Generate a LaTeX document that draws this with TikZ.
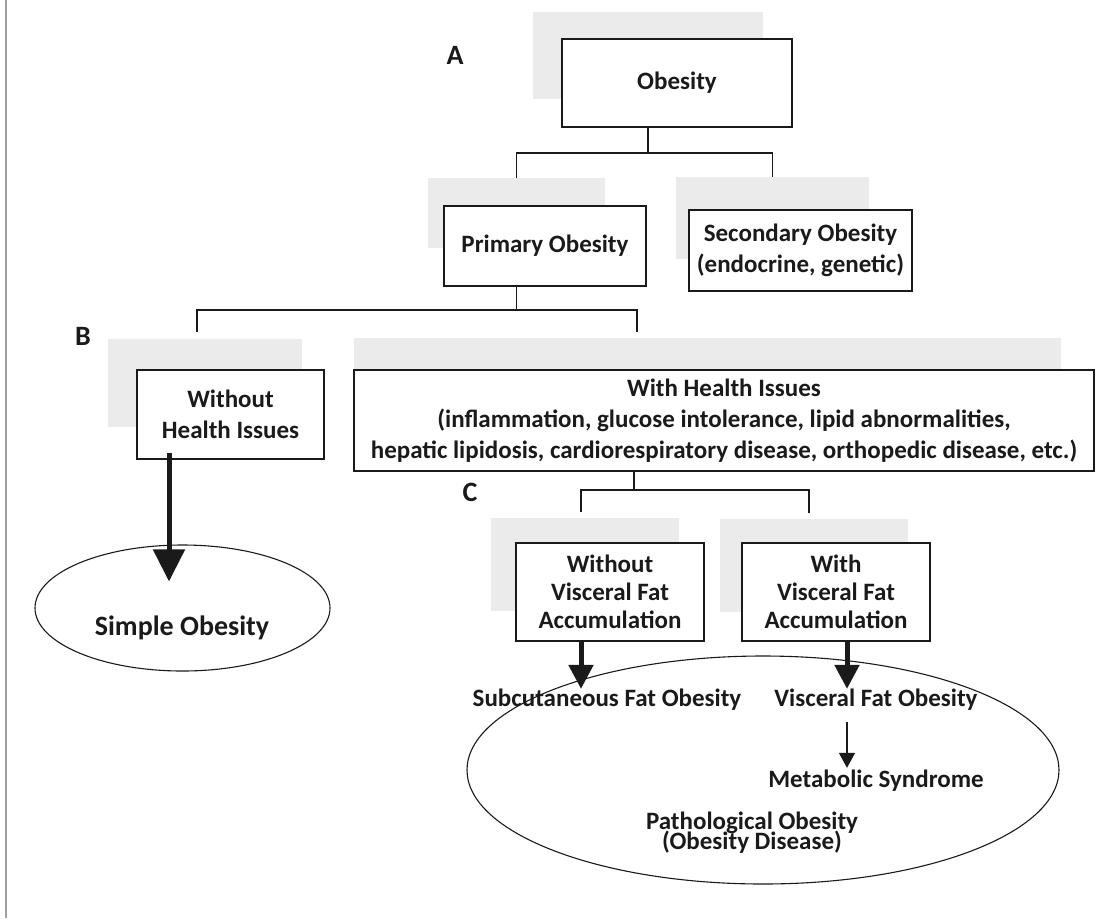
\documentclass[tikz,border=0pt]{standalone}
\usepackage{fontspec}
\setmainfont{Carlito}
\usetikzlibrary{arrows.meta,calc,positioning,shapes.geometric}
\definecolor{inkgray}{HTML}{1A1A1A}
\definecolor{shadegray}{HTML}{EBEBEB}
\definecolor{framegray}{HTML}{A0A0A0}
\newcommand{\boxfont}{\bfseries\fontsize{12.5}{15.5}\selectfont}
\tikzset{
  shadebox/.style={rectangle, fill=shadegray, draw=none, inner sep=0pt},
  box/.style={
    rectangle, draw=inkgray, fill=white, line width=0.9pt,
    align=center, inner sep=0pt, text=inkgray, font=\boxfont
  },
  plain/.style={font=\boxfont, text=inkgray, align=center, inner sep=0pt},
  tag/.style={font=\bfseries\fontsize{14}{16}\selectfont, text=inkgray},
  oval/.style={ellipse, draw=inkgray, line width=0.55pt, inner sep=0pt},
  link/.style={draw=inkgray, line width=0.6pt},
  fatarrow/.style={-{Triangle[width=12pt,length=12pt]}, line width=2.5pt, draw=inkgray},
  bigarrow/.style={-{Triangle[width=15.5pt,length=16pt]}, line width=2.5pt, draw=inkgray},
  thinarrow/.style={-{Triangle[width=8pt,length=7.5pt]}, line width=0.8pt, draw=inkgray}
}

\begin{document}
\begin{tikzpicture}[x=0.5pt,y=-0.5pt]
  \useasboundingbox (0,0) rectangle (1116,918);
  \draw[framegray, line width=0.75pt] (6,0) -- (6,918);

  % shadows behind the boxes
  \node[shadebox, minimum width=115pt, minimum height=43.5pt] (obsh) at (648,55.5) {};
  \node[shadebox, minimum width=88.5pt, minimum height=35pt] (primsh) at (516.5,213) {};
  \node[shadebox, minimum width=96.5pt, minimum height=41pt] (secsh) at (772.5,218) {};
  \node[shadebox, minimum width=97pt, minimum height=44pt] (nohsh) at (205,383) {};
  \node[shadebox, minimum width=353.5pt, minimum height=51pt] (withsh) at (707.5,389) {};
  \node[shadebox, minimum width=94pt, minimum height=46.5pt] (novsh) at (585,564.5) {};
  \node[shadebox, minimum width=94pt, minimum height=46.5pt] (wvsh) at (814,565.5) {};

  % boxes
  \node[box, minimum width=115pt, minimum height=44pt] (obesity) at (677,83) {Obesity};
  \node[box, minimum width=101pt, minimum height=40pt] (primary) at (545,246) {Primary Obesity};
  \node[box, minimum width=111.5pt, minimum height=40.5pt] (secondary) at (800.5,250.5)
    {Secondary Obesity\\(endocrine, genetic)};
  \node[box, minimum width=93.5pt, minimum height=44.5pt] (nohealth) at (230.5,414.5)
    {Without\\Health Issues};
  \node[box, minimum width=370pt, minimum height=50.5pt] (withhealth) at (724,420.5)
    {With Health Issues\\(inflammation, glucose intolerance, lipid abnormalities,\\
     hepatic lipidosis, cardiorespiratory disease, orthopedic disease, etc.)};
  \node[box, minimum width=94pt, minimum height=49pt,
    font=\bfseries\fontsize{12.5}{14}\selectfont] (novisc) at (610,592)
    {Without\\Visceral Fat\\Accumulation};
  \node[box, minimum width=94pt, minimum height=49pt,
    font=\bfseries\fontsize{12.5}{14}\selectfont] (withvisc) at (836,592)
    {With\\Visceral Fat\\Accumulation};

  % ovals and their texts
  \node[oval, minimum width=147.5pt, minimum height=63pt] (simple) at (182.5,608) {};
  \node[plain, font=\bfseries\fontsize{14}{16}\selectfont] (simpletext) at (182,628) {Simple Obesity};
  \node[oval, minimum width=296pt, minimum height=114pt] (patho) at (763,770) {};
  \node[plain] (subq) at (607,700) {Subcutaneous Fat Obesity};
  \node[plain] (visc) at (876,700) {Visceral Fat Obesity};
  \node[plain] (metab) at (876,781) {Metabolic Syndrome};
  \node[plain] (pathotext) at (752,833) {Pathological Obesity\\[-5.5pt](Obesity Disease)};

  % panel tags
  \node[tag] (tagA) at (455,55) {A};
  \node[tag] (tagB) at (83,336) {B};
  \node[tag] (tagC) at (470,492) {C};

  % tree connectors
  \draw[link] (obesity.south -| obsh.south) -- ++(0,25) coordinate (a-split);
  \draw[link] (primsh.north) |- (a-split) -| (secsh.north);

  \draw[link] (primary.south -| primsh.south) -- ++(0,23) coordinate (b-split);
  \coordinate (b-left) at (197,332);
  \coordinate (b-right) at (637,332);
  \draw[link] (b-left) |- (b-split) -| (b-right);

  \coordinate (c-split) at ($(withhealth.south)+(-90,18)$);
  \draw[link] (withhealth.south -| c-split) -- (c-split);
  \draw[link, shorten <=3pt, shorten >=3pt] ($(novsh.north)+(-4,0)$) |- (c-split) -| ($(wvsh.north)+(-5,0)$);

  % arrows
  \draw[bigarrow] ($(nohealth.south)+(-61.5,-7)$) -- ($(simple.north)+(-13.5,37)$);
  \coordinate (novisc-out) at ($(novisc.south)+(-29,0)$);
  \draw[fatarrow] (novisc-out) -- (novisc-out |- subq.north);
  \coordinate (withvisc-out) at ($(withvisc.south)+(11,0)$);
  \draw[fatarrow] (withvisc-out) -- (withvisc-out |- visc.north);
  \coordinate (visc-out) at ($(visc.south)+(-29,11)$);
  \draw[thinarrow] (visc-out) -- ($(visc-out |- metab.north)+(0,-2)$);
\end{tikzpicture}
\end{document}
